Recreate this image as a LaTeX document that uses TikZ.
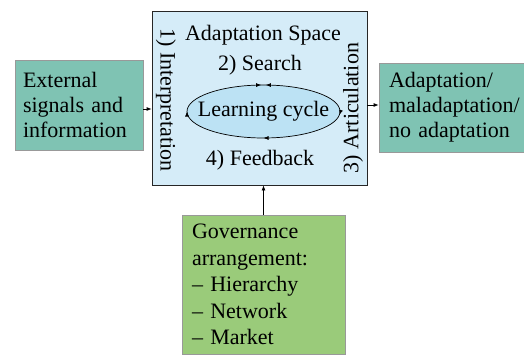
\documentclass[tikz,border=0pt]{standalone}
\usepackage{fontspec}
\setmainfont{Liberation Serif}
\usepackage{tikz}
\usetikzlibrary{positioning,shapes.geometric,arrows.meta,decorations.markings}
\definecolor{spaceblue}{HTML}{D5ECF8}
\definecolor{cycleblue}{HTML}{BCE2F4}
\definecolor{boxteal}{HTML}{7FC3B3}
\definecolor{govgreen}{HTML}{9ACB7A}

\begin{document}
\begin{tikzpicture}[x=1pt,y=-1pt,
  font=\rmfamily\fontsize{22}{25}\selectfont,
  outbox/.style={draw=black!40,line width=.8pt,align=left,inner xsep=8pt},
  tip/.style={line width=.8pt,-{Latex[length=5pt,width=4pt]}},
  cyc/.tip={Latex[length=5pt,width=4pt]}]
\useasboundingbox (0,0) rectangle (524,356);
\clip (0,0) rectangle (524,356);

% the adaptation space with its four steps
\node[draw=black!85,fill=spaceblue,line width=.8pt,minimum width=215pt,minimum height=174pt](space) at (259.5,98){};
\node(title) at (263,35){Adaptation Space};
\node(search) at (260,65){2) Search};
\node[ellipse,draw,fill=cycleblue,line width=.7pt,inner sep=0pt,minimum width=153pt,minimum height=53pt,
  postaction={decorate,decoration={markings,
    mark=at position .243 with {\arrow{cyc}},
    mark=at position .257 with {\arrowreversed{cyc}},
    mark=at position .5 with {\arrowreversed{cyc}},
    mark=at position .75 with {\arrowreversed{cyc}},
    mark=at position .99 with {\arrowreversed{cyc}}}}](cycle) at (263.5,111.5){\makebox[0pt]{Learning cycle}};
\node(feedback) at (260,160){4) Feedback};
\node[rotate=-90](interp) at (166,100){1) Interpretation};
\node[rotate=90](artic) at (353,108){3) Articulation};

% inputs and outcome
\node[outbox,fill=boxteal,text width=112pt,minimum height=90pt](ext) at (79,105){External\\signals and\\information};
\node[outbox,fill=boxteal,text width=134pt,inner xsep=10pt,minimum height=89pt](result) at (456,107.5){Adaptation/\\maladaptation/\\no adaptation};
\node[outbox,fill=govgreen,text width=143pt,inner xsep=10pt,inner ysep=9pt,anchor=north,
  font=\rmfamily\fontsize{22}{26.5}\selectfont](gov) at (263.5,215){Governance\\arrangement:\\-- Hierarchy\\-- Network\\-- Market};

\draw[tip]([yshift=-4pt]ext.east)--([yshift=-4pt]ext.east-|space.west);
\draw[tip]([yshift=2.5pt]result.west-|space.east)--([yshift=2.5pt]result.west);
\draw[tip](gov.north)--(gov.north|-space.south);
\end{tikzpicture}
\end{document}
